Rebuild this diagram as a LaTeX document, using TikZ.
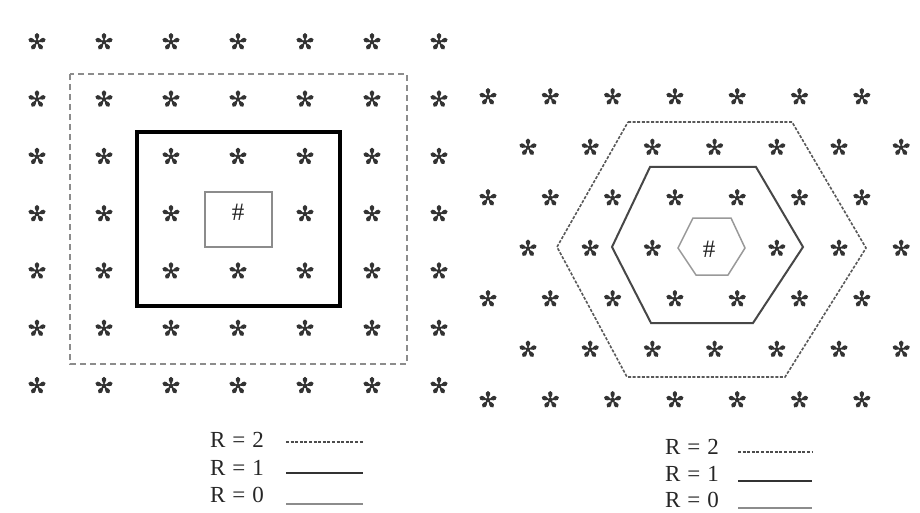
\documentclass[tikz,border=0pt]{standalone}
\usepackage{fontspec}
\setmainfont{Liberation Serif}
\newcommand\drawstar[1]{%
  \begin{scope}[shift={(#1)}]
    \foreach \a in {90,162,234,306,18}{
      \fill[starcol] (0pt,0pt) -- ({\a-16}:2.3pt) .. controls ({\a-30}:13pt) and ({\a+30}:13pt) .. ({\a+16}:2.3pt) -- cycle;
    }
    \fill[starcol] (0pt,0pt) circle (2.3pt);
  \end{scope}}
\begin{document}
\begin{tikzpicture}[x=1pt,y=-1pt,
  starcol/.style={fill=black!80},
  starnode/.style={circle, minimum size=20pt, inner sep=0pt},
  lbl/.style={font=\fontsize{23}{25}\selectfont, text=black!85, inner sep=0pt, anchor=base west},
  hashlbl/.style={font=\fontsize{25}{27}\selectfont, text=black!85, inner sep=0pt},
  rtwo/.style={draw=black!45, line width=1.8pt, dash pattern=on 6pt off 4pt},
  rone/.style={draw=black, line width=3.6pt},
  rzero/.style={draw=black!45, line width=1.3pt},
  htwo/.style={draw=black!65, line width=1.6pt, dash pattern=on 3pt off 1.6pt},
  hone/.style={draw=black!72, line width=2pt, line join=miter},
  hzero/.style={draw=black!40, line width=1.5pt},
  legtwo/.style={draw=black!70, line width=1.6pt, dash pattern=on 3pt off 1.6pt},
  legone/.style={draw=black!80, line width=2.4pt},
  legzero/.style={draw=black!45, line width=1.4pt}
]
\useasboundingbox (0,0) rectangle (920,513);
\fill[white] (0,0) rectangle (920,513);

% left square grid
\foreach \i in {0,...,6}{
  \foreach \j in {0,...,6}{
    \pgfmathsetmacro{\xx}{37+67*\j}
    \pgfmathsetmacro{\yy}{42+57.3*\i}
    \ifnum\i=3 \ifnum\j=3 \else
      \node[starnode] (L\i\j) at (\xx,\yy) {};
      \drawstar{L\i\j.center}
    \fi \else
      \node[starnode] (L\i\j) at (\xx,\yy) {};
      \drawstar{L\i\j.center}
    \fi
  }
}
\node[hashlbl] (Lhash) at (238,212) {\#};
\draw[rtwo] (70,74) rectangle (407,364);
\draw[rone] (137,132) rectangle (340,306);
\draw[rzero] (205,192) rectangle (272,247);

% right hexagonal grid
\foreach \i in {0,...,6}{
  \foreach \j in {0,...,6}{
    \pgfmathsetmacro{\yy}{97+50.5*\i}
    \ifodd\i
      \pgfmathsetmacro{\xx}{528+62.2*\j}
    \else
      \pgfmathsetmacro{\xx}{488+62.3*\j}
    \fi
    \ifnum\i=3 \ifnum\j=3 \else
      \node[starnode] (R\i\j) at (\xx,\yy) {};
      \drawstar{R\i\j.center}
    \fi \else
      \node[starnode] (R\i\j) at (\xx,\yy) {};
      \drawstar{R\i\j.center}
    \fi
  }
}
\node[hashlbl] (Rhash) at (709,249) {\#};
\draw[htwo] (628,122) -- (792,122) -- (866,248) -- (785,377) -- (627,377) -- (557,247) -- cycle;
\draw[hone] (650,167) -- (756,167) -- (803,247) -- (753,323) -- (651,323) -- (612,247) -- cycle;
\draw[hzero] (693,218) -- (731,218) -- (745,248) -- (728,275) -- (696,275) -- (678,248) -- cycle;

% left legend
\node[lbl] (LL2) at (210,447) {R\hspace{0.3em}=\hspace{0.3em}2};
\node[lbl] (LL1) at (210,475) {R\hspace{0.3em}=\hspace{0.3em}1};
\node[lbl] (LL0) at (210,502) {R\hspace{0.3em}=\hspace{0.3em}0};
\coordinate (LA2) at (286,442); \coordinate (LB2) at (363,442);
\coordinate (LA1) at (286,473); \coordinate (LB1) at (363,473);
\coordinate (LA0) at (286,504); \coordinate (LB0) at (363,504);
\draw[legtwo] (LA2) -- (LB2);
\draw[legone] (LA1) -- (LB1);
\draw[legzero] (LA0) -- (LB0);

% right legend
\node[lbl] (RL2) at (665,454) {R\hspace{0.3em}=\hspace{0.3em}2};
\node[lbl] (RL1) at (665,481) {R\hspace{0.3em}=\hspace{0.3em}1};
\node[lbl] (RL0) at (665,507) {R\hspace{0.3em}=\hspace{0.3em}0};
\coordinate (RA2) at (738,452); \coordinate (RB2) at (812,452);
\coordinate (RA1) at (738,481); \coordinate (RB1) at (812,481);
\coordinate (RA0) at (738,508); \coordinate (RB0) at (812,508);
\draw[legtwo] (RA2) -- (RB2);
\draw[legone] (RA1) -- (RB1);
\draw[legzero] (RA0) -- (RB0);
\end{tikzpicture}
\end{document}
